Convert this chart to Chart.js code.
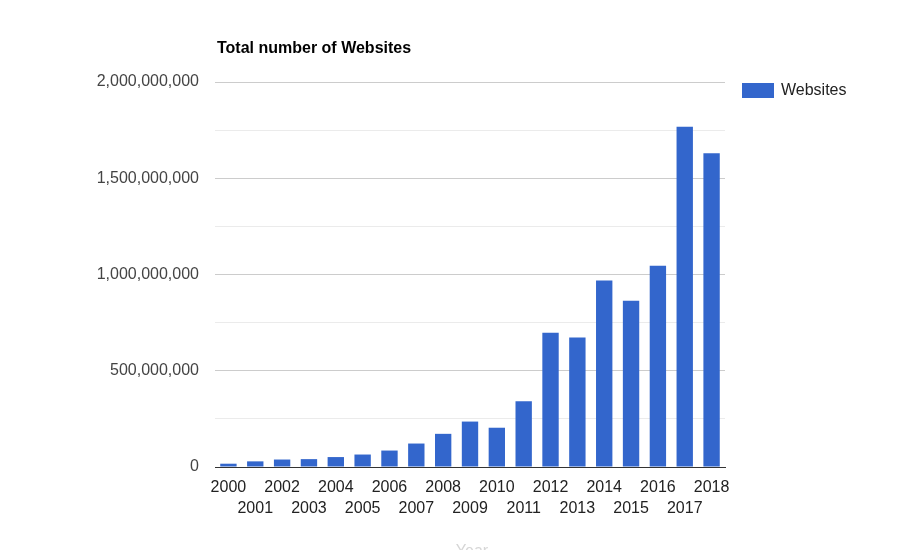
<!DOCTYPE html>
<html>
<head>
  <title>Total number of Websites</title>
  <script src="https://cdn.jsdelivr.net/npm/chart.js"></script>
</head>
<body style="margin:0;background:#fff;">
  <canvas id="chart" width="905" height="550"></canvas>

  <script>
    // data
    const years = ["2000","2001","2002","2003","2004","2005","2006","2007","2008","2009",
                   "2010","2011","2012","2013","2014","2015","2016","2017","2018"];
    const websites = [17100000, 29300000, 38800000, 40900000, 51600000, 64800000, 85500000,
                      121900000, 172300000, 236000000, 204000000, 342000000, 697000000,
                      673000000, 968900000, 863100000, 1045500000, 1766900000, 1630300000];
    const yTicks = [0, 500000000, 1000000000, 1500000000, 2000000000];

    const FONT = "Arial, 'Liberation Sans', sans-serif";
    const BLUE = "#3366cc";

    // title, legend and axis title drawn on top
    const decor = {
      id: "decor",
      afterDraw(chart) {
        const c = chart.ctx;
        c.save();
        c.textBaseline = "middle";
        c.textAlign = "left";
        c.fillStyle = "#000";
        c.font = "bold 16px " + FONT;
        c.fillText("Total number of Websites", 217, 48.5);

        c.fillStyle = chart.data.datasets[0].backgroundColor;
        c.fillRect(742, 83, 32, 15);
        c.fillStyle = "#222";
        c.font = "16px " + FONT;
        c.fillText(chart.data.datasets[0].label, 781, 91);

        c.textAlign = "center";
        c.textBaseline = "alphabetic";
        c.fillStyle = "#d6d6d6";
        c.fillText("Year", 472, 556);
        c.restore();
      }
    };

    const ctx = document.getElementById("chart").getContext("2d");
    const chart = new Chart(ctx, {
      type: "bar",
      data: {
        labels: years,
        datasets: [{
          label: "Websites",
          data: websites,
          backgroundColor: BLUE,
          borderWidth: 0,
          barPercentage: 0.61,
          categoryPercentage: 1
        }]
      },
      options: {
        responsive: false,
        animation: false,
        layout: { padding: { top: 82, right: 180, left: 0, bottom: 0 } },
        plugins: { legend: { display: false }, tooltip: { enabled: false } },
        scales: {
          x: {
            z: 1,
            grid: { display: false, drawTicks: false },
            border: { display: true, color: "#333", width: 1 },
            ticks: {
              autoSkip: false,
              maxRotation: 0,
              padding: 10,
              color: "#222",
              font: { family: FONT, size: 16, lineHeight: 1.3 },
              callback: (v, i) => i % 2 ? ["", years[i]] : years[i]
            },
            afterFit: s => { s.height = 83; }
          },
          y: {
            min: 0,
            max: 2000000000,
            border: { display: false },
            grid: {
              drawTicks: false,
              color: c => c.tick && yTicks.includes(c.tick.value) ? "#cccccc" : "#ebebeb"
            },
            ticks: {
              stepSize: 250000000,
              padding: 16,
              color: "#444",
              font: { family: FONT, size: 16 },
              callback: v => yTicks.includes(v) ? v.toLocaleString("en-US") : ""
            },
            afterFit: s => { s.width = 215; }
          }
        }
      },
      plugins: [decor]
    });
  </script>
</body>
</html>
